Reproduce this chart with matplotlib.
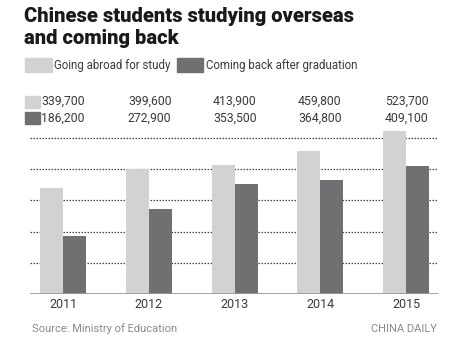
import matplotlib
matplotlib.use("Agg")
import matplotlib.pyplot as plt

years = ["2011", "2012", "2013", "2014", "2015"]
abroad = [339700, 399600, 413900, 459800, 523700]
back = [186200, 272900, 353500, 364800, 409100]
abroad_labels = ["339,700", "399,600", "413,900", "459,800", "523,700"]
back_labels = ["186,200", "272,900", "353,500", "364,800", "409,100"]

W, H = 460, 349
LIGHT = "#d2d2d3"
DARK = "#707073"
NARROW = ["Roboto", "DejaVu Sans"]


def fx(px):
    return px / W


def fy(py):
    return 1 - py / H


fig = plt.figure(figsize=(W / 100, H / 100), dpi=100)
fig.patch.set_facecolor("white")

# title
fig.text(fx(24), fy(16), "Chinese students studying overseas", fontsize=14.5,
         fontweight="heavy", family="Roboto", color="#1a1a1a", va="center")
fig.text(fx(24), fy(39), "and coming back", fontsize=14.5,
         fontweight="heavy", family="Roboto", color="#1a1a1a", va="center")

# legend
fig.patches.append(plt.Rectangle((fx(25), fy(72)), fx(27), 14 / H, color=LIGHT,
                                 transform=fig.transFigure))
fig.text(fx(54), fy(66), "Going abroad for study", fontsize=8.3, family=NARROW,
         color="#3a3a3a", va="center")
fig.patches.append(plt.Rectangle((fx(177), fy(72)), fx(26), 14 / H, color=DARK,
                                 transform=fig.transFigure))
fig.text(fx(206), fy(66), "Coming back after graduation", fontsize=8.3,
         family=NARROW, color="#3a3a3a", va="center")

# value rows
fig.patches.append(plt.Rectangle((fx(25), fy(108)), fx(15), 12 / H, color=LIGHT,
                                 transform=fig.transFigure))
fig.patches.append(plt.Rectangle((fx(25), fy(124)), fx(15), 12 / H, color=DARK,
                                 transform=fig.transFigure))
label_x = [41, 128, 213, 298, 385]
for lx, a, b in zip(label_x, abroad_labels, back_labels):
    fig.text(fx(lx), fy(101), a, fontsize=8.8, family=NARROW, color="#3a3a3a",
             va="center")
    fig.text(fx(lx), fy(118), b, fontsize=8.8, family=NARROW, color="#3a3a3a",
             va="center")

# chart
ax = fig.add_axes([fx(30), fy(294), fx(438) - fx(30), (294 - 128) / H])
x = list(range(len(years)))
bw = 0.268
ax.bar([i - bw for i in x], abroad, width=bw, align="edge", color=LIGHT,
       zorder=3)
ax.bar(x, back, width=bw, align="edge", color=DARK, zorder=3)
for g in [100000, 200000, 300000, 400000, 500000]:
    ax.axhline(g, color="#444444", lw=0.9, ls=(0, (1.2, 1.2)), zorder=1)
ax.axhline(0, color="#999999", lw=2, zorder=4)
ax.set_xlim(-0.385, 4.37)
ax.set_ylim(0, 532000)
ax.set_yticks([])
ax.set_xticks(x)
ax.set_xticklabels(years, family=NARROW, fontsize=9, color="#3a3a3a")
ax.tick_params(axis="x", length=0, pad=3)
for s in ax.spines.values():
    s.set_visible(False)

# footer
fig.text(fx(32), fy(329), "Source: Ministry of Education", fontsize=8,
         family=NARROW, color="#8a8a8a", va="center")
fig.text(fx(437), fy(329), "CHINA DAILY", fontsize=8, family=NARROW,
         color="#8a8a8a", va="center", ha="right")

fig.savefig("out.png", dpi=100)
